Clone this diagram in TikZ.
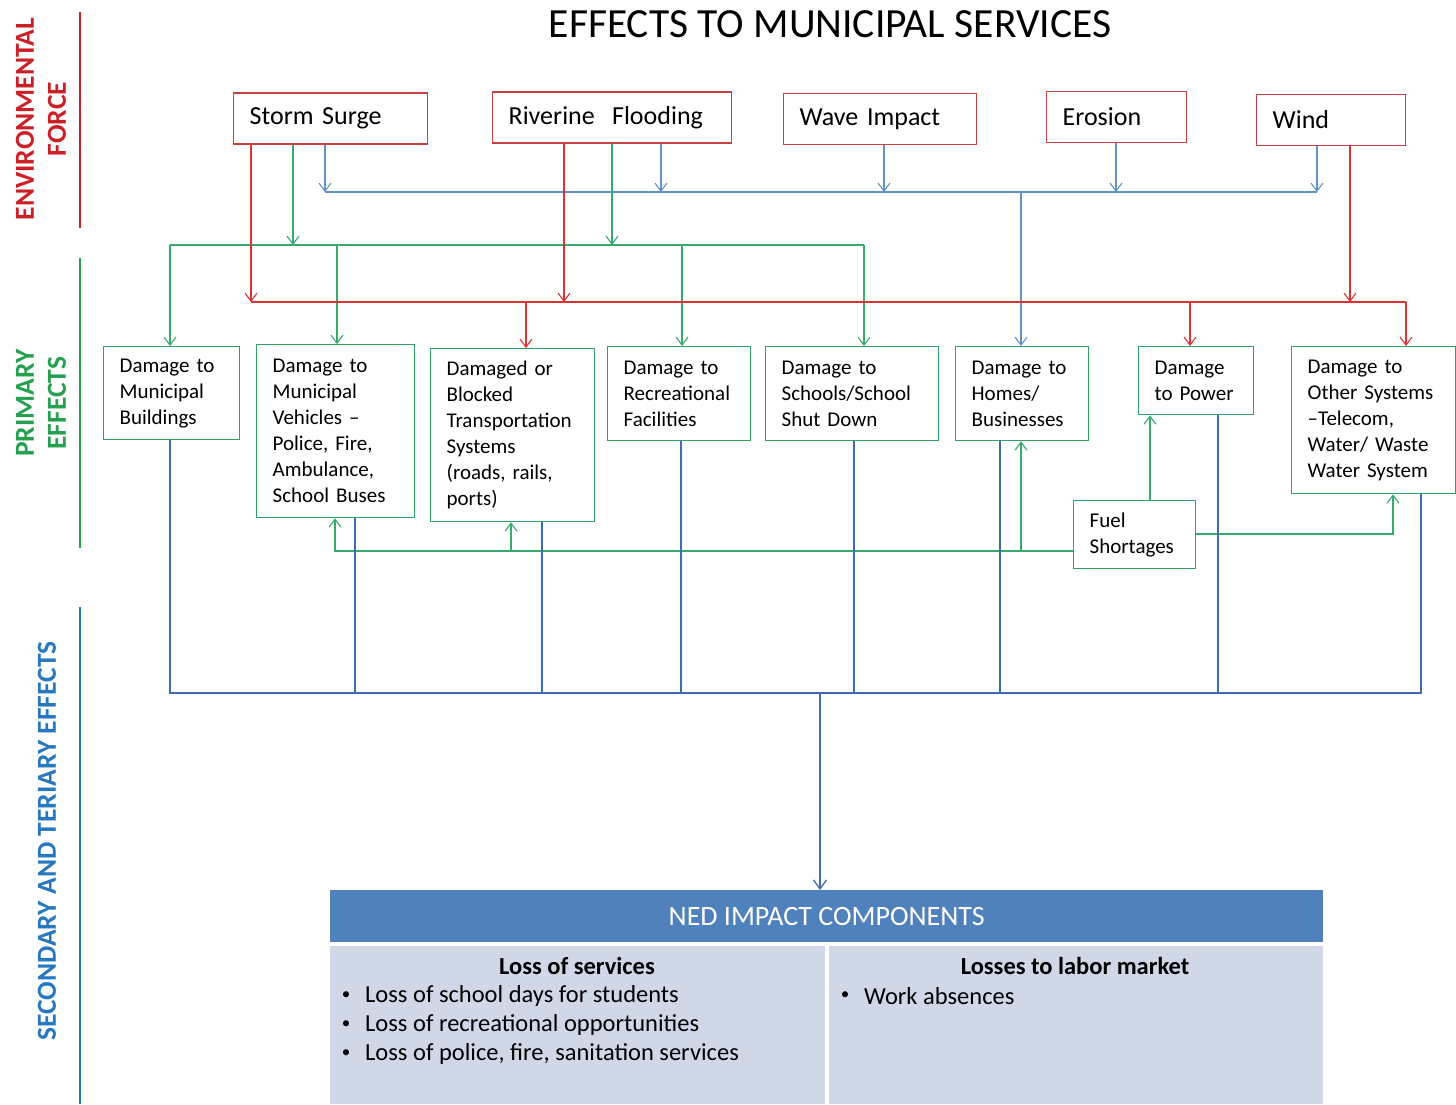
\documentclass[tikz,border=0pt]{standalone}
\usepackage{fontspec}
\setmainfont{Carlito}
\usetikzlibrary{arrows.meta}
\definecolor{redbox}{RGB}{200,64,64}
\definecolor{redline}{RGB}{222,50,50}
\definecolor{greenline}{RGB}{56,170,110}
\definecolor{greenbox}{RGB}{50,160,105}
\definecolor{bluethin}{RGB}{100,145,200}
\definecolor{bluethick}{RGB}{62,108,178}
\definecolor{envred}{RGB}{204,32,40}
\definecolor{envgreen}{RGB}{38,160,80}
\definecolor{envblue}{RGB}{40,120,190}
\definecolor{nedhead}{RGB}{79,129,189}
\definecolor{nedbody}{RGB}{208,216,232}
\begin{document}
\begin{tikzpicture}[x=1pt,y=-1pt,
 topbox/.style={draw=redbox,line width=1.3pt,inner xsep=16pt,inner ysep=0pt,minimum height=51pt,anchor=west,align=left,font=\fontsize{26}{30}\selectfont},
 pbox/.style={draw=greenbox,line width=1.3pt,inner xsep=16pt,inner ysep=0pt,anchor=north west,align=left,font=\fontsize{21}{26}\selectfont},
 tip/.style={-{Straight Barb[length=8pt,width=12pt,line width=1.1pt]}},
 rl/.style={draw=redline,line width=1.3pt},
 gl/.style={draw=greenline,line width=1.3pt},
 bl/.style={draw=bluethin,line width=1.3pt},
 bk/.style={draw=bluethick,line width=2.5pt},
 side/.style={rotate=90,align=center,font=\bfseries\fontsize{27.5}{32}\selectfont},
 bul/.style={anchor=west,inner sep=0pt,font=\fontsize{24.5}{28}\selectfont},
 dot/.style={anchor=center,inner sep=0pt,font=\fontsize{17}{20}\selectfont},
 colhead/.style={font=\bfseries\fontsize{24.5}{28}\selectfont},
]
\useasboundingbox (0,0) rectangle (1456,1104);
\fill[white] (0,0) rectangle (1456,1104);

% title
\node[font=\fontsize{41.5}{48}\selectfont] (title) at (830,24) {EFFECTS TO MUNICIPAL SERVICES};

% side labels
\node[side,text=envred] (lenv) at (41,119) {ENVIRONMENTAL\\FORCE};
\draw[envred,line width=1.5pt] (80,12) -- (80,228);
\node[side,text=envgreen] (lprim) at (41,403) {PRIMARY\\EFFECTS};
\draw[envgreen,line width=1.5pt] (80,258) -- (80,548);
\node[side,text=envblue] (lsec) at (47,841) {SECONDARY AND TERIARY EFFECTS};
\draw[envblue,line width=1.5pt] (80,607) -- (80,1104);

% environmental forces
\node[topbox,text width=162pt] (ss) at (233,118.5) {Storm Surge};
\node[topbox,text width=207pt] (rf) at (492,117.5) {Riverine\ \ Flooding};
\node[topbox,text width=161pt] (wi) at (783,119) {Wave Impact};
\node[topbox,text width=108pt] (er) at (1046,117) {Erosion};
\node[topbox,text width=117pt] (wd) at (1256,120) {Wind};

% primary effects
\node[pbox,text width=104pt,minimum height=93pt] (mb) at (103,346) {Damage to\\Municipal\\Buildings};
\node[pbox,text width=126pt,minimum height=173pt] (mv) at (256,344) {Damage to\\Municipal\\Vehicles --\\Police, Fire,\\Ambulance,\\School Buses};
\node[pbox,text width=132pt,minimum height=173pt] (tr) at (430,348) {Damaged or\\Blocked\\Transportation\\Systems\\(roads, rails,\\ports)};
\node[pbox,text width=111pt,minimum height=94pt] (rec) at (607,346) {Damage to\\Recreational\\Facilities};
\node[pbox,text width=141pt,minimum height=94pt] (sch) at (765,346) {Damage to\\Schools/School\\Shut Down};
\node[pbox,text width=101pt,minimum height=94pt] (hb) at (955,346) {Damage to\\Homes/\\Businesses};
\node[pbox,text width=83pt,minimum height=68pt] (pw) at (1138,346) {Damage\\to Power};
\node[pbox,text width=132pt,minimum height=147pt] (os) at (1291,346) {Damage to\\Other Systems\\--Telecom,\\Water/ Waste\\Water System};
\node[pbox,text width=90pt,minimum height=68pt] (fs) at (1073,500) {Fuel\\Shortages};

% blue bus
\coordinate (b1) at (325,192);
\coordinate (b2) at (661,192);
\coordinate (b3) at (884,192);
\coordinate (b4) at (1116,192);
\coordinate (b5) at (1317,192);
\coordinate (b6) at (1021,192);
\draw[bl] (b1) -- (b5);
\draw[bl,tip] (b1 |- ss.south) -- (b1);
\draw[bl,tip] (b2 |- rf.south) -- (b2);
\draw[bl,tip] (b3 |- wi.south) -- (b3);
\draw[bl,tip] (b4 |- er.south) -- (b4);
\draw[bl,tip] (b5 |- wd.south) -- (b5);
\draw[bl,tip] (b6) -- (b6 |- hb.north);

% green bus
\coordinate (g0) at (170,245);
\coordinate (g1) at (293,245);
\coordinate (g2) at (612,245);
\coordinate (g3) at (864,245);
\coordinate (g4) at (682,245);
\coordinate (g5) at (337,245);
\draw[gl] (g0) -- (g3);
\draw[gl,tip] (g1 |- ss.south) -- (g1);
\draw[gl,tip] (g2 |- rf.south) -- (g2);
\draw[gl,tip] (g0) -- (g0 |- mb.north);
\draw[gl,tip] (g5) -- (g5 |- mv.north);
\draw[gl,tip] (g4) -- (g4 |- rec.north);
\draw[gl,tip] (g3) -- (g3 |- sch.north);

% red bus
\coordinate (r1) at (251,302);
\coordinate (r2) at (564,302);
\coordinate (r3) at (1350,302);
\coordinate (r4) at (526,302);
\coordinate (r5) at (1406,302);
\coordinate (r6) at (1190,302);
\draw[rl] (r1) -- (r5);
\draw[rl,tip] (r1 |- ss.south) -- (r1);
\draw[rl,tip] (r2 |- rf.south) -- (r2);
\draw[rl,tip] (r3 |- wd.south) -- (r3);
\draw[rl,tip] (r4) -- (r4 |- tr.north);
\draw[rl,tip] (r6) -- (r6 |- pw.north);
\draw[rl,tip] (r5) -- (r5 |- os.north);

% fuel shortages
\coordinate (f1) at (335,551);
\coordinate (f1b) at (511,551);
\coordinate (f1c) at (1021,551);
\draw[gl,tip] (fs.west |- f1) -- (f1) -- (f1 |- mv.south);
\draw[gl,tip] (f1b) -- (f1b |- tr.south);
\draw[gl,tip] (f1c) -- (f1c |- hb.south);
\coordinate (f2) at (1150,500);
\draw[gl,tip] (f2 |- fs.north) -- (f2 |- pw.south);
\coordinate (f3) at (1393,534);
\draw[gl,tip] (fs.east |- f3) -- (f3) -- (f3 |- os.south);

% thick blue collector
\coordinate (k1) at (170,693);
\coordinate (k2) at (355,693);
\coordinate (k3) at (542,693);
\coordinate (k4) at (681,693);
\coordinate (k5) at (854,693);
\coordinate (k6) at (1000,693);
\coordinate (k7) at (1218,693);
\coordinate (k8) at (1421,693);
\coordinate (kc) at (820,693);
\draw[bk] (k1 |- mb.south) -- (k1) -- (k8) -- (k8 |- os.south);
\draw[bk] (k2 |- mv.south) -- (k2);
\draw[bk] (k3 |- tr.south) -- (k3);
\draw[bk] (k4 |- rec.south) -- (k4);
\draw[bk] (k5 |- sch.south) -- (k5);
\draw[bk] (k6 |- hb.south) -- (k6);
\draw[bk] (k7 |- pw.south) -- (k7);

% NED table
\node[fill=nedhead,minimum width=993pt,minimum height=52pt,inner sep=0pt,anchor=north west,text=white,font=\fontsize{28}{32}\selectfont] (ned) at (330,890) {NED IMPACT COMPONENTS};
\draw[bk,-{Straight Barb[length=9pt,width=13pt,line width=1.3pt]}] (kc) -- (kc |- ned.north);
\fill[nedbody] (330,946) rectangle (825,1104);
\fill[nedbody] (829,946) rectangle (1323,1104);
\node[colhead] (ls) at (577,966) {Loss of services};
\node[colhead] (ll) at (1075,966) {Losses to labor market};
\node[dot] (d1) at (346,996) {\textbullet};
\node[bul] (t1) at (365,996) {Loss of school days for students};
\node[dot] (d2) at (346,1025) {\textbullet};
\node[bul] (t2) at (365,1025) {Loss of recreational opportunities};
\node[dot] (d3) at (346,1054) {\textbullet};
\node[bul] (t3) at (365,1054) {Loss of police, fire, sanitation services};
\node[dot] (d4) at (845,996) {\textbullet};
\node[bul] (t4) at (864,996) {Work absences};
\end{tikzpicture}
\end{document}
